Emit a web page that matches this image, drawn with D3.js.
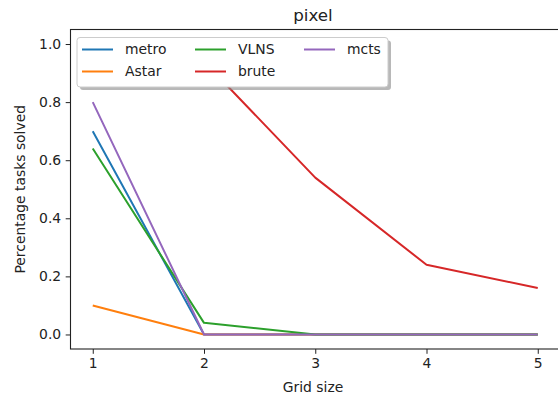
<!DOCTYPE html>
<html>
<head>
<meta charset="utf-8">
<script src="https://cdn.jsdelivr.net/npm/d3@7"></script>
<style>
  body { margin: 0; background: #fff; }
  svg { display: block; font-family: "DejaVu Sans", sans-serif; }
</style>
</head>
<body>
<div id="chart"></div>
<script>
const gridSizes = [1, 2, 3, 4, 5];
const metro = [0.70, 0, 0, 0, 0];
const astar = [0.10, 0, 0, 0, 0];
const vlns = [0.64, 0.04, 0, 0, 0];
const brute = [1.0, 0.94, 0.54, 0.24, 0.16];
const mcts = [0.80, 0, 0, 0, 0];
const yTicks = [0.0, 0.2, 0.4, 0.6, 0.8, 1.0];

const series = [
    { name: "metro", values: metro, color: "#1f77b4" },
    { name: "Astar", values: astar, color: "#ff7f0e" },
    { name: "VLNS", values: vlns, color: "#2ca02c" },
    { name: "brute", values: brute, color: "#d62728" },
    { name: "mcts", values: mcts, color: "#9467bd" }
];

const width = 558, height = 397;
const margin = { top: 29.5, right: -2, bottom: 48, left: 70.5 };
const fs = 13.9;

const svg = d3.select("#chart").append("svg")
    .attr("width", width)
    .attr("height", height);

const x = d3.scaleLinear().domain([0.8, 5.2]).range([margin.left, width - margin.right]);
const y = d3.scaleLinear().domain([-0.05, 1.05]).range([height - margin.bottom, margin.top]);

svg.append("clipPath").attr("id", "clip")
    .append("rect")
    .attr("x", margin.left).attr("y", margin.top)
    .attr("width", x.range()[1] - margin.left)
    .attr("height", y.range()[0] - margin.top);

const line = d3.line()
    .x((d, i) => x(gridSizes[i]))
    .y(d => y(d));

svg.append("g").attr("clip-path", "url(#clip)")
    .selectAll("path")
    .data(series)
    .join("path")
    .attr("d", d => line(d.values))
    .attr("fill", "none")
    .attr("stroke", d => d.color)
    .attr("stroke-width", 2)
    .attr("stroke-linejoin", "round");

// axes
const xAxis = svg.append("g")
    .attr("transform", `translate(0,${y.range()[0]})`)
    .call(d3.axisBottom(x).tickValues(gridSizes).tickFormat(d3.format("d")).tickSizeOuter(0).tickSize(4.8).tickPadding(4.5));
const yAxis = svg.append("g")
    .attr("transform", `translate(${margin.left},0)`)
    .call(d3.axisLeft(y).tickValues(yTicks).tickFormat(d3.format(".1f")).tickSizeOuter(0).tickSize(4.8).tickPadding(4.5));

[xAxis, yAxis].forEach(a => {
    a.select(".domain").remove();
    a.selectAll("text").attr("font-size", fs).attr("fill", "#222").attr("font-family", "DejaVu Sans");
    a.selectAll("line").attr("stroke", "#222");
});

// frame
svg.append("rect")
    .attr("x", margin.left).attr("y", margin.top)
    .attr("width", x.range()[1] - margin.left)
    .attr("height", y.range()[0] - margin.top)
    .attr("fill", "none")
    .attr("stroke", "#222")
    .attr("stroke-width", 1.1);

svg.append("text")
    .attr("x", 313).attr("y", 21)
    .attr("text-anchor", "middle")
    .attr("font-size", 16.7)
    .attr("fill", "#222")
    .text("pixel");

svg.append("text")
    .attr("x", 313).attr("y", 392)
    .attr("text-anchor", "middle")
    .attr("font-size", fs)
    .attr("fill", "#222")
    .text("Grid size");

svg.append("text")
    .attr("transform", `translate(25,${(y.range()[0] + margin.top) / 2}) rotate(-90)`)
    .attr("text-anchor", "middle")
    .attr("font-size", fs)
    .attr("fill", "#222")
    .text("Percentage tasks solved");

// legend
const lg = svg.append("g");
const lx = 77, ly = 37.5, lw = 311, lh = 49.5;
lg.append("rect")
    .attr("x", lx + 3).attr("y", ly + 3)
    .attr("width", lw).attr("height", lh)
    .attr("rx", 3)
    .attr("fill", "#888").attr("opacity", 0.6);
lg.append("rect")
    .attr("x", lx).attr("y", ly)
    .attr("width", lw).attr("height", lh)
    .attr("rx", 3)
    .attr("fill", "#fff")
    .attr("stroke", "#ccc");

const colX = [82, 195, 304];
const rowY = [49.5, 71.5];
series.forEach((s, i) => {
    const cx = colX[Math.floor(i / 2)];
    const cy = rowY[i % 2];
    lg.append("line")
        .attr("x1", cx).attr("x2", cx + 31)
        .attr("y1", cy).attr("y2", cy)
        .attr("stroke", s.color)
        .attr("stroke-width", 2);
    lg.append("text")
        .attr("x", cx + 43).attr("y", cy)
        .attr("dy", "0.35em")
        .attr("font-size", fs)
        .attr("fill", "#222")
        .text(s.name);
});
</script>
</body>
</html>
